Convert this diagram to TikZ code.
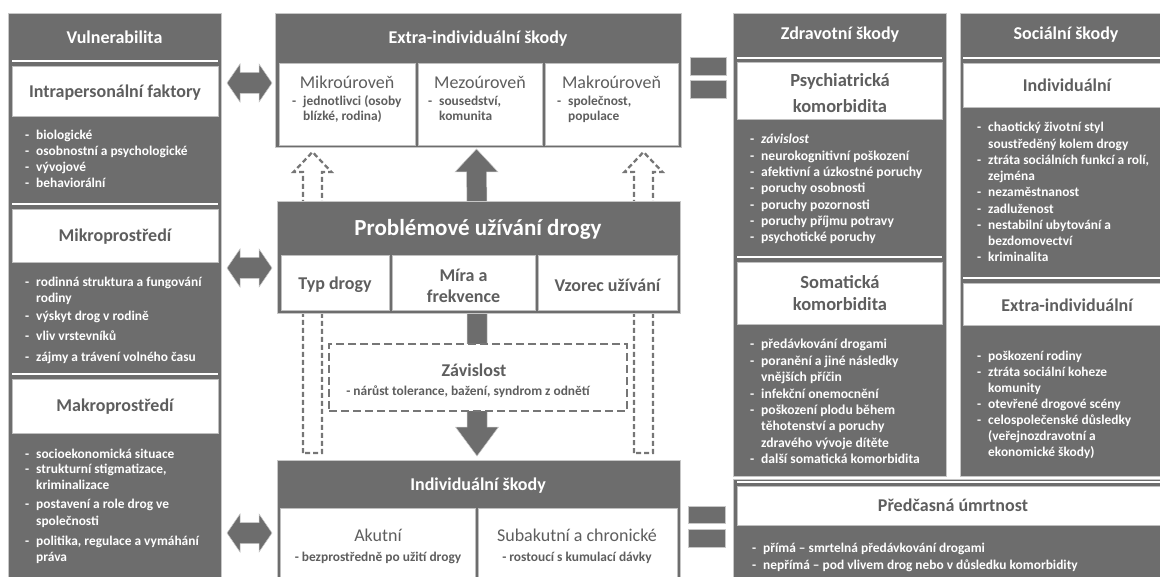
\documentclass[tikz,border=0pt]{standalone}
\usepackage{fontspec}
\setmainfont{Carlito}
\usetikzlibrary{fit}
\definecolor{dk}{HTML}{6D6D6D}
\definecolor{tg}{HTML}{5E5E5E}
\definecolor{dsg}{HTML}{767676}
\newcommand\dashitem{\makebox[11pt][l]{-}}
\newcommand\mylist[1]{\begin{tabular}[t]{@{}l@{}l@{}}#1\end{tabular}}
\newcommand\dblarrow[2]{\fill[arr] (#1) -- ([shift={(13pt,19pt)}]#1) -- ([shift={(13pt,10.5pt)}]#1) -- ([shift={(-13pt,10.5pt)}]#2) -- ([shift={(-13pt,19pt)}]#2) -- (#2) -- ([shift={(-13pt,-19pt)}]#2) -- ([shift={(-13pt,-10.5pt)}]#2) -- ([shift={(13pt,-10.5pt)}]#1) -- ([shift={(13pt,-19pt)}]#1) -- cycle;}
\newcommand\outarrow[2]{\draw[dsh] ([xshift=-9.5pt]#1) -- ([shift={(-9.5pt,-20pt)}]#2) -- ([shift={(-19pt,-20pt)}]#2) -- (#2) -- ([shift={(19pt,-20pt)}]#2) -- ([shift={(9.5pt,-20pt)}]#2) -- ([xshift=9.5pt]#1) -- cycle;}
\tikzset{
  dkbox/.style={fill=dk, draw=black!22, line width=0.6pt, inner sep=0pt, outer sep=0pt},
  wbox/.style={fill=white, draw=black!25, line width=0.5pt, inner sep=0pt, outer sep=0pt},
  hdr/.style={text=white, font=\fontsize{18}{22}\selectfont\bfseries, inner sep=0pt},
  ttl/.style={text=tg, font=\fontsize{18}{22}\selectfont\bfseries, align=center, inner sep=0pt},
  ttlr/.style={text=tg, font=\fontsize{18}{22}\selectfont, inner sep=0pt},
  wlist/.style={text=white, font=\fontsize{13.4}{16}\selectfont\bfseries, anchor=base west, inner sep=0pt},
  glist/.style={text=tg, font=\fontsize{13.4}{15}\selectfont\bfseries, anchor=base west, inner sep=0pt},
  wl/.style={draw=white, line width=1.6pt},
  arr/.style={fill=dk, draw=black!22, line width=0.5pt},
  dsh/.style={draw=dsg, line width=2.3pt, dash pattern=on 5pt off 3pt},
  dshbox/.style={draw=dsg, line width=2.5pt, dash pattern=on 8pt off 4pt, fill=white, inner sep=0pt, outer sep=0pt}
}
\begin{document}
\begin{tikzpicture}[x=1pt,y=-1pt]
\useasboundingbox (0,0) rectangle (1160,577);
\clip (0,0) rectangle (1160,577);

% ---------- dashed outline arrows (behind) ----------
\coordinate (dLb) at (312.5,453); \coordinate (dLt) at (312.5,152);
\coordinate (dRb) at (643.5,453); \coordinate (dRt) at (643.5,152);
\outarrow{dLb}{dLt}
\outarrow{dRb}{dRt}

% ---------- left column ----------
\node[dkbox, fit={(8,13)(221,600)}] (vul) {};
\node[hdr] (vulh) at (114.5,37) {Vulnerabilita};
\draw[wl] (12,61) -- (218,61);
\node[wbox, fit={(12,66)(218,116)}] (intra) {};
\node[ttl] (intrat) at (115,93) {Intrapersonální faktory};
\node[wlist, font=\fontsize{13.4}{15.7}\selectfont\bfseries] (intral) at (25,140) {\mylist{\dashitem&biologické\\ \dashitem&osobnostní a psychologické\\ \dashitem&vývojové\\ \dashitem&behaviorální}};
\draw[wl] (12,204) -- (218,204);
\node[wbox, fit={(12,209)(218,262)}] (mikro) {};
\node[ttl] (mikrot) at (115,237) {Mikroprostředí};
\node[wlist] (mikrol) at (25,287) {\mylist{\dashitem&rodinná struktura a fungování\\ &rodiny\\[2pt] \dashitem&výskyt drog v rodině\\[4pt] \dashitem&vliv vrstevníků\\[5pt] \dashitem&zájmy a trávení volného času}};
\draw[wl] (12,374) -- (218,374);
\node[wbox, fit={(12,379)(218,433)}] (makro) {};
\node[ttl] (makrot) at (115,407) {Makroprostředí};
\node[wlist] (makrol) at (25,458) {\mylist{\dashitem&socioekonomická situace\\[-1pt] \dashitem&strukturní stigmatizace,\\ &kriminalizace\\[4pt] \dashitem&postavení a role drog ve\\ &společnosti\\[4pt] \dashitem&politika, regulace a vymáhání\\ &práva}};

% ---------- double arrows ----------
\coordinate (a1L) at (227,83);  \coordinate (a1R) at (272,83);
\coordinate (a2L) at (227,268); \coordinate (a2R) at (272,268);
\coordinate (a3L) at (227,533); \coordinate (a3R) at (272,533);
\dblarrow{a1L}{a1R}
\dblarrow{a2L}{a2R}
\dblarrow{a3L}{a3R}

% ---------- centre: extra-individual ----------
\node[dkbox, fit={(275,13)(681,147)}] (extra) {};
\node[hdr] (extrah) at (478,39) {Extra-individuální škody};
\node[wbox, fit={(279,63)(415,145)}] (emi) {};
\node[wbox, fit={(418,63)(542,145)}] (eme) {};
\node[wbox, fit={(545,63)(678,145)}] (ema) {};
\node[ttlr] (emit) at (347,82) {Mikroúroveň};
\node[ttlr] (emet) at (480,82) {Mezoúroveň};
\node[ttlr] (emat) at (611.5,82) {Makroúroveň};
\node[glist] (emil) at (292,106) {\mylist{\dashitem&jednotlivci (osoby\\ &blízké, rodina)}};
\node[glist] (emel) at (428,106) {\mylist{\dashitem&sousedství,\\ &komunita}};
\node[glist] (emal) at (557,106) {\mylist{\dashitem&společnost,\\ &populace}};

% ---------- centre: solid arrows ----------
\node[dkbox, fit={(277,201)(680,313)}] (prob) {};
\coordinate (uB) at ([xshift=-1.5pt,yshift=-2pt]prob.north);
\coordinate (uT) at ([xshift=-1.5pt,yshift=-2pt]extra.south);
\fill[arr] ([xshift=-10pt]uB) -- ([shift={(-10pt,-23pt)}]uT) -- ([shift={(-21.5pt,-23pt)}]uT) -- (uT) -- ([shift={(21.5pt,-23pt)}]uT) -- ([shift={(10pt,-23pt)}]uT) -- ([xshift=10pt]uB) -- cycle;
\coordinate (dB) at ([xshift=-1.5pt,yshift=2pt]prob.south);
\coordinate (dT) at (477,456);
\fill[arr] ([xshift=-10pt]dB) -- ([shift={(-10pt,29pt)}]dT) -- ([shift={(-21.5pt,29pt)}]dT) -- (dT) -- ([shift={(21.5pt,29pt)}]dT) -- ([shift={(10pt,29pt)}]dT) -- ([xshift=10pt]dB) -- cycle;
\node[dkbox, fit={(277,201)(680,313)}] (probtop) {};

% ---------- centre: problem use ----------
\node[hdr, font=\fontsize{23}{27}\selectfont\bfseries] (probh) at (478,229) {Problémové užívání drogy};
\node[wbox, fit={(281,255)(389,310)}] (typ) {};
\node[wbox, fit={(392,255)(535,310)}] (mira) {};
\node[wbox, fit={(538,255)(677,310)}] (vzor) {};
\node[ttl] (typt) at (335,285) {Typ drogy};
\node[ttl, font=\fontsize{18}{21}\selectfont\bfseries] (mirat) at (463.5,286) {Míra a\\frekvence};
\node[ttl] (vzort) at (607.5,285) {Vzorec užívání};

% ---------- centre: dependence ----------
\node[dshbox, fit={(329,344)(627,411)}] (zav) {};
\node[ttl] (zavt) at (474,370) {Závislost};
\node[text=tg, font=\fontsize{13.4}{15}\selectfont\bfseries, inner sep=0pt] (zavs) at (468,392) {- nárůst tolerance, bažení, syndrom z odnětí};

% ---------- centre: individual harms ----------
\node[dkbox, fit={(277,460)(680,600)}] (indiv) {};
\node[hdr] (indivh) at (478,486) {Individuální škody};
\node[wbox, fit={(280,508)(475,600)}] (akut) {};
\node[wbox, fit={(478,508)(677,600)}] (subak) {};
\node[ttlr] (akutt) at (378,535) {Akutní};
\node[text=tg, font=\fontsize{13.4}{15}\selectfont\bfseries, inner sep=0pt] (akuts) at (378,558) {- bezprostředně po užití drogy};
\node[ttlr] (subakt) at (577,535) {Subakutní a chronické};
\node[text=tg, font=\fontsize{13.4}{15}\selectfont\bfseries, inner sep=0pt] (subaks) at (577,558) {- rostoucí s kumulací dávky};

% ---------- equals signs ----------
\node[dkbox, fit={(690,57)(726,75)}] (eq1a) {};
\node[dkbox, fit={(690,80)(726,98)}] (eq1b) {};
\node[dkbox, fit={(688,506)(725,523)}] (eq2a) {};
\node[dkbox, fit={(688,529)(725,547)}] (eq2b) {};

% ---------- health harms ----------
\node[dkbox, fit={(733,13)(946,476)}] (zdr) {};
\node[hdr] (zdrh) at (840,35) {Zdravotní škody};
\draw[wl] (737,58) -- (942,58);
\node[wbox, fit={(737,62)(942,119)}] (psy) {};
\node[ttl, font=\fontsize{18.5}{26}\selectfont\bfseries] (psyt) at (840,93) {Psychiatrická\\komorbidita};
\node[wlist, font=\fontsize{13.6}{16.3}\selectfont\bfseries] (psyl) at (750,144) {\mylist{\dashitem&\textit{závislost}\\ \dashitem&neurokognitivní poškození\\ \dashitem&afektivní a úzkostné poruchy\\ \dashitem&poruchy osobnosti\\ \dashitem&poruchy pozornosti\\ \dashitem&poruchy příjmu potravy\\ \dashitem&psychotické poruchy}};
\draw[wl] (737,257) -- (942,257);
\node[wbox, fit={(737,262)(942,324)}] (som) {};
\node[ttl, font=\fontsize{18.5}{22}\selectfont\bfseries] (somt) at (840,293) {Somatická\\komorbidita};
\node[wlist, font=\fontsize{13.6}{16.4}\selectfont\bfseries] (soml) at (750,349) {\mylist{\dashitem&předávkování drogami\\ \dashitem&poranění a jiné následky\\ &vnějších příčin\\ \dashitem&infekční onemocnění\\ \dashitem&poškození plodu během\\ &těhotenství a poruchy\\ &zdravého vývoje dítěte\\ \dashitem&další somatická komorbidita}};

% ---------- social harms ----------
\node[dkbox, fit={(960,13)(1175,476)}] (soc) {};
\node[hdr] (soch) at (1066,35) {Sociální škody};
\draw[wl] (963,58) -- (1175,58);
\node[wbox, fit={(963,63)(1175,107)}] (sind) {};
\node[ttl] (sindt) at (1067,85) {Individuální};
\node[wlist, font=\fontsize{13.4}{16.25}\selectfont\bfseries] (sindl) at (977,132) {\mylist{\dashitem&chaotický životní styl\\ &soustředěný kolem drogy\\ \dashitem&ztráta sociálních funkcí a rolí,\\ &zejména\\ \dashitem&nezaměstnanost\\ \dashitem&zadluženost\\ \dashitem&nestabilní ubytování a\\ &bezdomovectví\\ \dashitem&kriminalita}};
\draw[wl] (963,278) -- (1175,278);
\node[wbox, fit={(963,283)(1175,325)}] (sext) {};
\node[ttl] (sextt) at (1067,305) {Extra-individuální};
\node[wlist, font=\fontsize{13.4}{16}\selectfont\bfseries] (sextl) at (977,361) {\mylist{\dashitem&poškození rodiny\\ \dashitem&ztráta sociální koheze\\ &komunity\\ \dashitem&otevřené drogové scény\\ \dashitem&celospolečenské důsledky\\ &(veřejnozdravotní a\\ &ekonomické škody)}};

% ---------- premature mortality ----------
\node[dkbox, fit={(733,479)(1175,600)}] (mort) {};
\draw[wl] (737,482) -- (1175,482);
\node[wbox, fit={(737,486)(1175,525)}] (mortw) {};
\node[ttl] (mortt) at (953,505) {Předčasná úmrtnost};
\node[wlist, font=\fontsize{13.4}{17.5}\selectfont\bfseries] (mortl) at (752,552) {\mylist{\dashitem&přímá – smrtelná předávkování drogami\\ \dashitem&nepřímá – pod vlivem drog nebo v důsledku komorbidity}};
\end{tikzpicture}
\end{document}
